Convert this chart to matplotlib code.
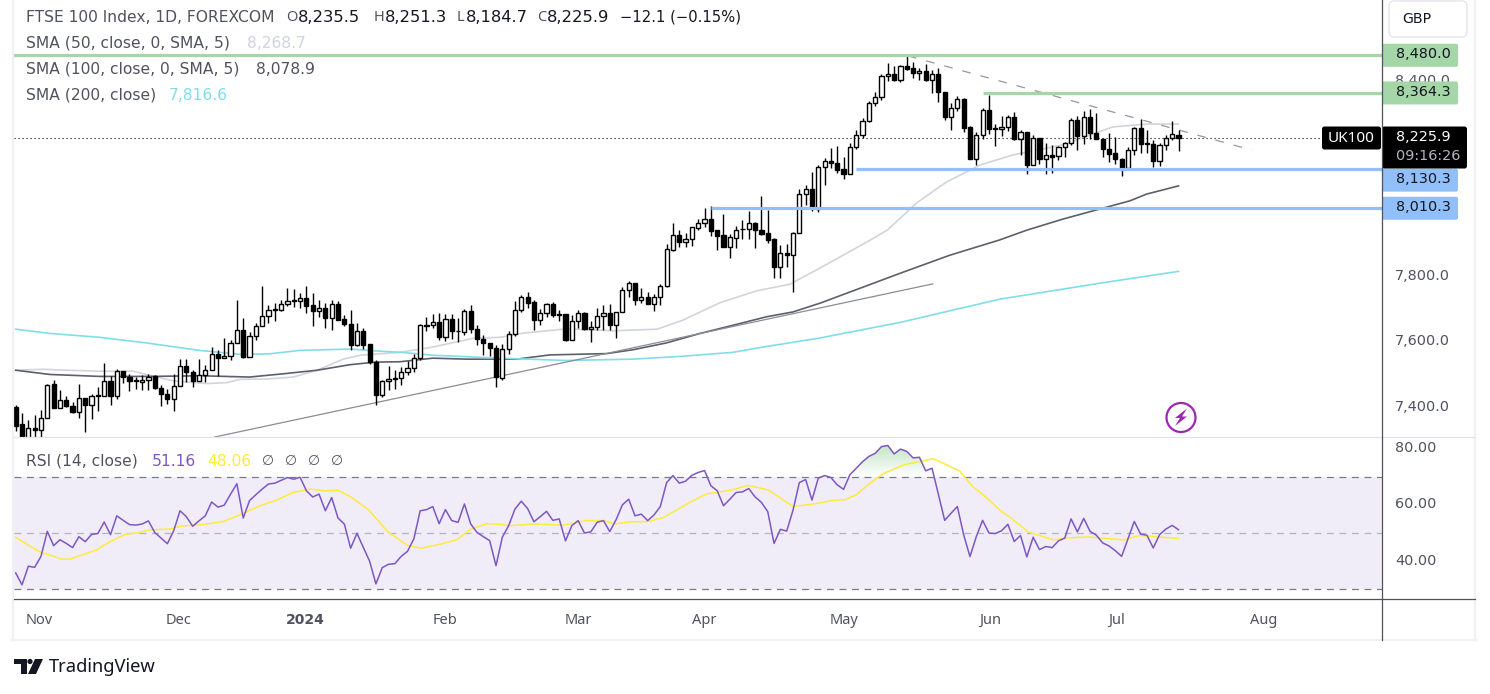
import matplotlib
matplotlib.use('Agg')
import matplotlib.pyplot as plt
import numpy as np
from matplotlib.patches import FancyBboxPatch, Circle, Polygon
from matplotlib.path import Path
from matplotlib.transforms import ScaledTranslation

plt.rcParams['font.family'] = ['DejaVu Sans']

# Daily candles
opens = [
    7400, 7347, 7295, 7336, 7330, 7367, 7470, 7397, 7422, 7404,
    7384, 7429, 7407, 7435, 7435, 7481, 7434, 7512, 7493, 7481,
    7478, 7484, 7494, 7459, 7441, 7424, 7466, 7527, 7509, 7480,
    7499, 7515, 7564, 7551, 7558, 7598, 7638, 7554, 7619, 7650,
    7678, 7699, 7699, 7715, 7728, 7724, 7736, 7712, 7696, 7705,
    7674, 7715, 7669, 7656, 7591, 7632, 7592, 7539, 7437, 7481,
    7490, 7490, 7508, 7521, 7549, 7653, 7652, 7662, 7615, 7669,
    7634, 7631, 7696, 7641, 7610, 7598, 7582, 7490, 7579, 7625,
    7699, 7739, 7721, 7667, 7689, 7715, 7686, 7687, 7607, 7664,
    7690, 7640, 7646, 7681, 7690, 7652, 7693, 7758, 7782, 7729,
    7739, 7717, 7738, 7773, 7882, 7927, 7908, 7917, 7951, 7964,
    7976, 7943, 7927, 7892, 7920, 7946, 7947, 7964, 7945, 7933,
    7915, 7831, 7872, 7868, 7933, 8053, 8069, 8007, 8136, 8155,
    8149, 8130, 8114, 8198, 8234, 8278, 8333, 8352, 8416, 8422,
    8403, 8447, 8441, 8424, 8432, 8403, 8422, 8367, 8289, 8318,
    8345, 8259, 8163, 8234, 8312, 8257, 8253, 8261, 8290, 8222,
    8244, 8144, 8225, 8163, 8175, 8170, 8198, 8210, 8281, 8231,
    8290, 8240, 8224, 8192, 8179, 8161, 8135, 8188, 8258, 8210,
    8207, 8154, 8204, 8225, 8235.5,
]
highs = [
    7405, 7382, 7361, 7376, 7390, 7472, 7484, 7451, 7433, 7415,
    7470, 7429, 7439, 7463, 7536, 7495, 7518, 7512, 7502, 7492,
    7497, 7500, 7497, 7467, 7456, 7500, 7546, 7546, 7513, 7546,
    7528, 7583, 7576, 7612, 7605, 7728, 7672, 7631, 7659, 7771,
    7714, 7718, 7730, 7764, 7761, 7749, 7771, 7749, 7730, 7720,
    7728, 7725, 7684, 7697, 7658, 7644, 7595, 7543, 7484, 7525,
    7513, 7523, 7540, 7564, 7654, 7677, 7687, 7690, 7687, 7687,
    7672, 7702, 7713, 7653, 7620, 7598, 7590, 7593, 7633, 7725,
    7743, 7753, 7728, 7702, 7720, 7722, 7699, 7687, 7682, 7699,
    7692, 7663, 7703, 7713, 7715, 7693, 7767, 7787, 7782, 7765,
    7753, 7746, 7779, 7902, 7965, 7942, 7933, 7952, 7977, 8011,
    8017, 7945, 7993, 7930, 7956, 7974, 8002, 7969, 8048, 8005,
    7918, 7897, 7902, 7938, 8069, 8082, 8123, 8142, 8165, 8196,
    8202, 8169, 8212, 8251, 8287, 8338, 8368, 8422, 8456, 8446,
    8450, 8480, 8459, 8442, 8454, 8434, 8441, 8367, 8333, 8354,
    8348, 8263, 8243, 8317, 8359, 8270, 8294, 8296, 8306, 8249,
    8244, 8235, 8225, 8210, 8204, 8202, 8215, 8287, 8294, 8309,
    8316, 8302, 8227, 8241, 8229, 8164, 8198, 8261, 8284, 8251,
    8220, 8210, 8236, 8279, 8251.3,
]
lows = [
    7326, 7275, 7275, 7308, 7308, 7367, 7397, 7397, 7400, 7381,
    7366, 7323, 7363, 7388, 7435, 7405, 7424, 7474, 7449, 7455,
    7451, 7451, 7455, 7403, 7408, 7388, 7466, 7476, 7461, 7480,
    7478, 7515, 7494, 7549, 7543, 7598, 7551, 7554, 7605, 7650,
    7658, 7664, 7696, 7710, 7708, 7704, 7689, 7649, 7676, 7643,
    7637, 7668, 7648, 7576, 7587, 7578, 7533, 7406, 7431, 7451,
    7456, 7467, 7499, 7508, 7543, 7634, 7643, 7605, 7603, 7610,
    7599, 7621, 7627, 7590, 7559, 7556, 7463, 7484, 7562, 7618,
    7692, 7704, 7636, 7651, 7677, 7677, 7664, 7603, 7605, 7644,
    7638, 7599, 7638, 7636, 7638, 7612, 7693, 7738, 7714, 7720,
    7716, 7695, 7714, 7767, 7879, 7892, 7891, 7894, 7942, 7954,
    7925, 7882, 7890, 7857, 7888, 7916, 7916, 7888, 7928, 7904,
    7796, 7796, 7831, 7754, 7933, 8020, 8001, 8000, 8082, 8135,
    8120, 8101, 8114, 8191, 8225, 8275, 8323, 8344, 8400, 8400,
    8397, 8434, 8409, 8403, 8401, 8363, 8335, 8282, 8249, 8308,
    8243, 8163, 8144, 8224, 8237, 8200, 8233, 8246, 8220, 8174,
    8116, 8143, 8146, 8114, 8120, 8159, 8167, 8204, 8188, 8206,
    8224, 8224, 8169, 8151, 8146, 8108, 8135, 8175, 8181, 8179,
    8136, 8140, 8190, 8219, 8184.7,
]
closes = [
    7343, 7295, 7336, 7329, 7367, 7469, 7397, 7422, 7403, 7384,
    7429, 7406, 7435, 7434, 7481, 7434, 7512, 7491, 7480, 7480,
    7484, 7493, 7458, 7440, 7424, 7466, 7527, 7507, 7480, 7499,
    7515, 7564, 7551, 7558, 7598, 7638, 7554, 7619, 7650, 7678,
    7699, 7700, 7715, 7727, 7724, 7736, 7711, 7695, 7705, 7674,
    7715, 7668, 7655, 7591, 7632, 7591, 7537, 7437, 7481, 7487,
    7487, 7508, 7521, 7552, 7651, 7650, 7662, 7615, 7669, 7633,
    7632, 7696, 7640, 7609, 7597, 7581, 7491, 7579, 7625, 7699,
    7739, 7720, 7667, 7689, 7715, 7683, 7682, 7605, 7665, 7689,
    7640, 7647, 7681, 7689, 7651, 7693, 7758, 7782, 7729, 7738,
    7717, 7739, 7773, 7884, 7927, 7908, 7917, 7952, 7964, 7976,
    7941, 7926, 7892, 7921, 7945, 7948, 7964, 7943, 7932, 7914,
    7831, 7872, 7868, 7933, 8053, 8069, 8015, 8136, 8155, 8148,
    8129, 8114, 8198, 8234, 8278, 8333, 8352, 8416, 8422, 8403,
    8447, 8439, 8424, 8432, 8403, 8422, 8366, 8289, 8318, 8345,
    8258, 8163, 8234, 8312, 8255, 8255, 8261, 8290, 8222, 8243,
    8144, 8225, 8163, 8175, 8169, 8198, 8210, 8281, 8231, 8290,
    8240, 8224, 8191, 8178, 8160, 8135, 8188, 8258, 8209, 8206,
    8154, 8204, 8225, 8237, 8225.9,
]

# Moving averages, bar position and value at the bends of each line
sma50_bar = [0, 4.3, 8, 13.3, 18.6, 21.3, 25, 30.3, 33.4, 35.5, 39.7, 43.9, 47.7, 51.8, 54.5, 60.8, 66, 72.4,
             76.6, 80.3, 87.2, 94.5, 101.5, 105.6, 111.4, 117.3, 122.5, 127.3, 135, 137.9, 142.6, 147.3, 152.6,
             157.8, 165.7, 171, 173.6, 179, 184]
sma50_val = [7513, 7516, 7513, 7510, 7510, 7497, 7480, 7472, 7475, 7485, 7486, 7492, 7513, 7547, 7559, 7568, 7584, 7611,
             7614, 7627, 7640, 7634, 7639, 7667, 7720, 7757, 7777, 7827, 7910, 7943, 8027, 8091, 8143,
             8174, 8205, 8242, 8260, 8268.7, 8268.7]
sma100_bar = [0, 5.4, 13.3, 21.3, 29.2, 37, 42.3, 47.7, 52.9, 57, 60.8, 66, 71.4, 79.3, 84.5, 93.5, 97.7, 103,
              108.3, 113.5, 118.8, 123, 127.3, 140, 147.8, 155.7, 160, 165.7, 171, 176.3, 179, 184]
sma100_val = [7513, 7500, 7494, 7494, 7496, 7492, 7502, 7513, 7530, 7538, 7539, 7550, 7547, 7547, 7560, 7564, 7576, 7597,
              7626, 7651, 7677, 7692, 7719, 7811, 7866, 7913, 7943, 7977, 8005, 8033, 8054, 8078.9]
sma200_bar = [0, 5.4, 13.3, 21, 29, 35.5, 40, 45, 53, 58, 61, 66, 76.6, 87, 97.7, 105.6, 113.5, 118.8,
              127, 140, 155.7, 171.5, 184]
sma200_val = [7639, 7626, 7614, 7596, 7574, 7562, 7563, 7574, 7578, 7571, 7568, 7559, 7550, 7543, 7547, 7556, 7568, 7586,
              7611, 7660, 7731, 7780, 7816.6]

rsi = [
    35.8, 31.6, 38.2, 37.8, 41.7, 50.6, 45.5, 47.6, 46.3, 44.8,
    48.7, 46.9, 49.5, 49.8, 53.9, 49.4, 56.1, 54.5, 53.0, 52.8,
    53.2, 54.3, 50.2, 48.2, 46.2, 50.8, 57.9, 55.8, 52.4, 54.3,
    56.1, 61.0, 59.2, 59.9, 63.8, 67.5, 55.3, 61.5, 63.6, 65.6,
    67.4, 67.7, 68.7, 69.7, 69.1, 69.8, 65.0, 62.8, 63.8, 57.9,
    62.6, 55.3, 53.2, 44.6, 49.9, 44.9, 40.0, 31.9, 37.7, 38.9,
    39.1, 41.7, 43.5, 47.9, 57.9, 58.3, 59.4, 53.3, 58.3, 54.4,
    53.8, 60.3, 53.2, 50.2, 48.7, 47.3, 38.4, 48.5, 52.6, 58.5,
    61.3, 58.7, 54.0, 55.8, 57.7, 54.5, 55.0, 47.2, 52.6, 54.4,
    50.0, 50.4, 53.8, 54.4, 50.5, 54.7, 60.0, 62.0, 56.1, 56.7,
    54.4, 56.4, 59.4, 67.9, 70.4, 67.7, 68.4, 70.5, 71.5, 72.2,
    66.8, 65.0, 59.7, 62.0, 64.4, 64.6, 65.8, 62.8, 60.9, 57.6,
    46.3, 51.3, 50.7, 58.1, 67.9, 69.0, 61.7, 69.5, 70.4, 69.7,
    67.1, 65.5, 70.7, 73.0, 75.3, 77.2, 78.3, 80.7, 81.1, 78.1,
    79.8, 79.0, 76.7, 76.9, 72.1, 73.0, 63.8, 54.5, 57.0, 59.4,
    49.4, 41.6, 48.7, 54.5, 50.0, 49.8, 50.8, 53.1, 47.0, 49.1,
    41.5, 48.5, 44.1, 45.2, 44.8, 47.2, 48.2, 55.0, 50.4, 55.2,
    50.6, 49.2, 46.5, 45.4, 43.7, 41.7, 47.9, 54.1, 49.6, 49.2,
    44.7, 49.4, 51.4, 52.7, 51.16,
]
rsi_ma_bar = [0, 2.3, 3.9, 5.4, 7.3, 8.6, 10.2, 12.8, 14.9, 17.3, 19.1, 21.3, 24.4, 26.3, 29.7, 32.9, 35, 38.7,
              41.3, 43.9, 46.6, 48.9, 51, 53.2, 55.8, 59, 62.1, 64.2, 67.1, 69.8, 71.9, 74.5, 76.6, 78.2,
              81.9, 86.7, 90.3, 93, 94.8, 96.9, 100.1, 102.5, 106.7, 109.3, 113, 115.9, 119.1, 123, 126.2,
              129.4, 131.2, 133, 134.7, 137.3, 140.5, 145.2, 149.4, 151.3, 153.1, 156.3, 157.3, 160.2, 162,
              164.2, 166.3, 169.5, 175.3, 177.9, 181.3, 184]
rsi_ma_val = [48.5, 45.3, 43.2, 42.2, 40.7, 40.7, 42.0, 44.0, 46.9, 49.5, 50.0, 51.1, 51.4, 52.5, 53.0, 54.1, 56.0, 59.7,
              61.7, 64.4, 65.6, 65.0, 65.2, 62.6, 58.3, 50.2, 45.5, 44.6, 46.0, 47.6, 51.2, 53.3, 53.1, 52.6,
              53.2, 52.8, 54.4, 54.4, 53.2, 53.9, 54.1, 55.5, 60.9, 63.9, 65.1, 66.9, 65.3, 59.4, 60.3,
              61.6, 61.8, 63.6, 66.8, 71.1, 74.2, 76.4, 72.0, 66.8, 63.5, 57.1, 55.7, 50.4, 49.1,
              47.6, 48.2, 48.6, 47.6, 49.1, 48.5, 48.06]

# Drawn levels and trend lines
level_prices = [8480.0, 8364.3, 8130.3, 8010.3]
level_start = [-1, 153, 133, 110]
level_labels = ['8,480.0', '8,364.3', '8,130.3', '8,010.3']
last_price = 8225.9
up_trend_bar = [31.5, 145.1]
up_trend_val = [7308, 7778]
down_trend_bar = [141.2, 195.6]
down_trend_val = [8478, 8189]

price_ticks = [7400, 7600, 7800, 8400]
rsi_ticks = [40, 60, 80]
month_bars = [3.7, 25.8, 45.9, 67.9, 89, 109, 131, 154.2, 174.2, 197.4]
month_labels = ['Nov', 'Dec', '2024', 'Feb', 'Mar', 'Apr', 'May', 'Jun', 'Jul', 'Aug']

W, H = 1490, 694
LEFT, RIGHT, PANE_SPLIT, PANE_END, TIME_END, OUTER = 14, 1382, 437, 599, 640, 1475
GREEN, BLUE = '#a5d6a7', '#90bff9'
TEXT = '#50535e'
BLACK = '#000000'
C50, C100, C200 = '#d1d4dc', '#5d606b', '#80deea'
PURPLE, YELLOW = '#7e57c2', '#ffeb3b'


def pane(top, bottom):
    return [LEFT / W, 1 - bottom / H, (RIGHT - LEFT) / W, (bottom - top) / H]


def nudge_up(labels, px):
    # tick labels sit a little above their tick in the original
    for t in labels:
        t.set_transform(t.get_transform() + ScaledTranslation(0, px / 100, fig.dpi_scale_trans))


fig = plt.figure(figsize=(W / 100, H / 100), dpi=100, facecolor='white')
ax = fig.add_axes(pane(0, PANE_SPLIT))
ax2 = fig.add_axes(pane(PANE_SPLIT, PANE_END))
top = fig.add_axes([0, 0, 1, 1])

xlim = (-0.27, 216.2)
ohlc_o, ohlc_h, ohlc_l, ohlc_c = map(np.array, (opens, highs, lows, closes))
bars = np.arange(len(opens))

# candles
ax.set_xlim(*xlim)
ax.set_ylim(7308, 8649.6)
ax.plot(sma50_bar, sma50_val, color=C50, lw=1.2, zorder=2)
ax.plot(sma100_bar, sma100_val, color=C100, lw=1.2, zorder=2)
ax.plot(sma200_bar, sma200_val, color=C200, lw=1.2, zorder=2)
ax.plot(up_trend_bar, up_trend_val, color='#8a8d96', lw=0.9, zorder=2)
ax.plot(down_trend_bar, down_trend_val, color='#9598a1', lw=0.9, ls=(0, (7, 8)), zorder=2)

wicks = ax.vlines(bars, ohlc_l, ohlc_h, color=BLACK, lw=1.0, zorder=3)
wicks.set_snap(True)
is_up = ohlc_c >= ohlc_o
body_low = np.minimum(ohlc_o, ohlc_c)
body_size = np.maximum(np.abs(ohlc_c - ohlc_o), 1.5)
ax.bar(bars, body_size, bottom=body_low, width=0.66,
       color=['white' if u else BLACK for u in is_up],
       edgecolor=BLACK, linewidth=1.0, zorder=4)

ax.axhline(last_price, color='black', lw=0.8, ls=(0, (1, 2.6)), zorder=4)
for price, start, color in zip(level_prices, level_start, [GREEN, GREEN, BLUE, BLUE]):
    ax.plot([start, xlim[1]], [price, price], color=color, lw=2.3, zorder=5, solid_capstyle='butt')

ax.set_yticks(price_ticks)
ax.set_yticklabels([f'{p:,.1f}' for p in price_ticks])
ax.yaxis.tick_right()
ax.tick_params(axis='y', length=0, pad=9.5, labelsize=10.4, labelcolor=TEXT)
ax.set_xticks([])
nudge_up(ax.get_yticklabels(), 2)
for s in ax.spines.values():
    s.set_visible(False)

# RSI pane
rsi_arr = np.array(rsi, dtype=float)
ax2.set_xlim(*xlim)
ax2.axhspan(30, 70, color='#f0edf9', lw=0, zorder=0)
ax2.axhline(70, color='#787b86', lw=0.9, ls=(0, (5.5, 4.5)), zorder=1)
ax2.axhline(30, color='#787b86', lw=0.9, ls=(0, (5.5, 4.5)), zorder=1)
ax2.axhline(50, color='#b2b5be', lw=0.9, ls=(0, (5.5, 4.5)), zorder=1)

hot = ax2.fill_between(bars, rsi_arr, 70, where=rsi_arr > 70, interpolate=True, color='none', lw=0)
grad = np.ones((64, 2, 4))
grad[:, :, :3] = matplotlib.colors.to_rgb('#81c784')
grad[:, :, 3] = np.linspace(0.0, 0.5, 64)[:, None]
im = ax2.imshow(grad, extent=[0, 184, 70, 82], origin='lower', aspect='auto', zorder=1.5)
im.set_clip_path(Path.make_compound_path(*hot.get_paths()), transform=ax2.transData)

ax2.plot(bars, rsi_arr, color=PURPLE, lw=1.1, zorder=3)
ax2.plot(rsi_ma_bar, rsi_ma_val, color=YELLOW, lw=1.1, zorder=2)
ax2.set_xlim(*xlim)
ax2.set_ylim(50 - 66 / 2.815, 50 + 96 / 2.815)
ax2.set_yticks(rsi_ticks)
ax2.set_yticklabels([f'{v:.2f}' for v in rsi_ticks])
ax2.yaxis.tick_right()
ax2.tick_params(axis='y', length=0, pad=9.5, labelsize=10.4, labelcolor=TEXT)
nudge_up(ax2.get_yticklabels(), 2)
ax2.set_xticks(month_bars)
ax2.set_xticklabels(month_labels, family='Noto Sans')
ax2.tick_params(axis='x', length=0, pad=10, labelsize=10.5, labelcolor=TEXT)
year_label = ax2.get_xticklabels()[2]
year_label.set_family('DejaVu Sans')
year_label.set_fontweight('bold')
year_label.set_fontsize(10.1)
for s in ax2.spines.values():
    s.set_visible(False)

# everything below is placed in image pixels
top.set_xlim(0, W)
top.set_ylim(H, 0)
top.axis('off')
top.patch.set_alpha(0)

BORDER = '#eff1f7'
top.plot([LEFT - 1, LEFT - 1], [0, TIME_END], color=BORDER, lw=1.6)
top.plot([OUTER, OUTER], [0, TIME_END], color=BORDER, lw=1.6)
top.plot([LEFT - 2, OUTER + 1], [TIME_END, TIME_END], color=BORDER, lw=1.6)
top.plot([LEFT, OUTER], [PANE_SPLIT, PANE_SPLIT], color='#e0e3eb', lw=0.9)
top.plot([LEFT, OUTER], [PANE_END, PANE_END], color='#50535e', lw=0.9)
top.plot([RIGHT, RIGHT], [0, TIME_END], color='#50535e', lw=0.9)

top.add_patch(FancyBboxPatch((1389, 1), 78, 36, boxstyle='round,pad=0,rounding_size=5',
                             fc='white', ec='#e0e3eb', lw=0.9))
top.text(1402, 19, 'GBP', fontsize=10.2, color='#131722', va='center')


def tag(y, label, color, text_color='#131722'):
    top.add_patch(FancyBboxPatch((RIGHT, y - 11.5), 76, 23, boxstyle='round,pad=0,rounding_size=2',
                                 fc=color, ec='none'))
    top.text(1396, y - 1, label, fontsize=10.4, color=text_color, va='center')


tag_shift = [0, 0, 11, 0]
for price, label, color, shift in zip(level_prices, level_labels, [GREEN, GREEN, BLUE, BLUE], tag_shift):
    y = H - ax.transData.transform((0, price))[1]
    tag(y + shift, label, color)

last_y = H - ax.transData.transform((0, last_price))[1]
top.add_patch(FancyBboxPatch((1322, last_y - 11.5), 59, 23, boxstyle='round,pad=0,rounding_size=2.5',
                             fc='black', ec='none'))
top.text(1351.5, last_y, 'UK100', fontsize=11, color='white', fontweight='bold', va='center', ha='center',
         family='Noto Sans')
top.add_patch(FancyBboxPatch((RIGHT, last_y - 11.5), 85, 42, boxstyle='round,pad=0,rounding_size=2.5',
                             fc='black', ec='none'))
top.text(1396, last_y - 1, '8,225.9', fontsize=10.4, color='white', va='center')
top.text(1396, last_y + 18, '09:16:26', fontsize=10.4, color='#b2b5be', va='center')

# legend lines
FS = 11.2
top.text(26, 17, 'FTSE 100 Index, 1D, FOREXCOM', fontsize=FS, color=TEXT, va='center')
for x, name, xv, val in [(286.5, 'O', 298, '8,235.5'), (374, 'H', 385, '8,251.3'),
                         (457, 'L', 466, '8,184.7'), (537, 'C', 547, '8,225.9')]:
    top.text(x, 17, name, fontsize=10.5, color=TEXT, va='center', family='Noto Sans')
    top.text(xv, 17, val, fontsize=11.8, color='#131722', va='center')
top.text(620, 17, '\u221212.1 (\u22120.15%)', fontsize=10.6, color='#131722', va='center')
top.text(26, 43, 'SMA (50, close, 0, SMA, 5)', fontsize=FS, color=TEXT, va='center')
top.text(247, 43, '8,268.7', fontsize=FS, color=C50, va='center')
top.text(26, 69, 'SMA (100, close, 0, SMA, 5)', fontsize=FS, color=TEXT, va='center')
top.text(256, 69, '8,078.9', fontsize=FS, color=TEXT, va='center')
top.text(26, 95, 'SMA (200, close)', fontsize=FS, color=TEXT, va='center')
top.text(169, 95, '7,816.6', fontsize=FS, color=C200, va='center')
top.text(26, 461, 'RSI (14, close)', fontsize=FS, color=TEXT, va='center')
top.text(152, 461, '51.16', fontsize=FS, color=PURPLE, va='center')
top.text(207, 461, '48.06', fontsize=FS, color=YELLOW, va='center')
for x in [262, 285, 308, 331]:
    top.text(x, 461, '\u2205', fontsize=10, color=TEXT, va='center')

# lightning badge
PURP = '#9c27b0'
top.add_patch(Circle((1181, 417.5), 14.5, fc='white', ec=PURP, lw=1.6))
top.add_patch(Polygon([(1187, 408.5), (1175, 418), (1180, 418), (1175, 426), (1187, 416.5), (1182, 416.5)],
                      closed=True, fc=PURP, ec='none'))

# TradingView logo
INK = '#131722'
top.add_patch(Polygon([(14, 659), (27, 659), (27, 674), (21, 674), (21, 664), (14, 664)], closed=True, fc=INK, ec='none'))
top.add_patch(Circle((30, 661.5), 2.6, fc=INK, ec='none'))
top.add_patch(Polygon([(35, 659), (43, 659), (36, 674), (28, 674)], closed=True, fc=INK, ec='none'))
top.text(49, 667, 'TradingView', fontsize=13.2, color=INK, va='center', family='Noto Sans')

fig.savefig('out.png', dpi=100)
